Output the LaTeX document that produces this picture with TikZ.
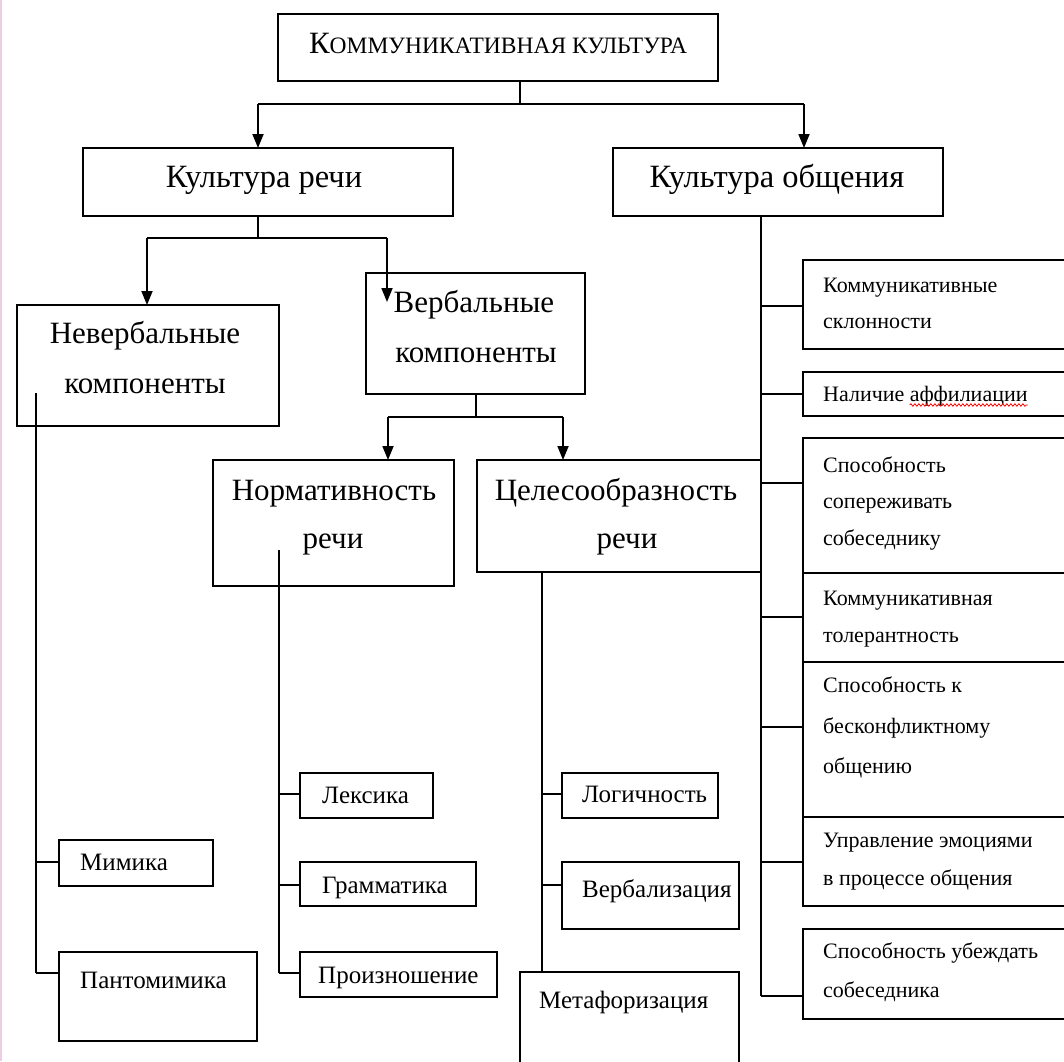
\documentclass[tikz,border=0pt]{standalone}
\usepackage{fontspec}
\setmainfont{Liberation Serif}
\newfontfamily\ser{Liberation Serif}
\newfontfamily\rcol{Liberation Serif}
\usetikzlibrary{arrows.meta,decorations.pathmorphing,fit}
\definecolor{edgepink}{RGB}{238,205,228}
\tikzset{
  bx/.style={draw=black, line width=2.4pt, inner sep=0pt, outer sep=0pt},
  ln/.style={draw=black, line width=1.8pt},
  ar/.style={ln, -{Triangle[length=14pt,width=11pt]}},
  big/.style={font=\ser\fontsize{32.5}{36}\selectfont, inner sep=0pt, anchor=base},
  lab/.style={font=\ser\fontsize{31}{34}\selectfont, inner sep=0pt, anchor=base},
  mid/.style={font=\ser\fontsize{25}{30}\selectfont, inner sep=0pt, anchor=base west},
  sm/.style={font=\rcol\fontsize{22}{25}\selectfont, inner sep=0pt, anchor=base west},
}
\newcommand\mkbox[5]{\node[bx, fit={(#2,#3) (#4,#5)}] (#1) {};}
\begin{document}
\begin{tikzpicture}[x=1pt,y=-1pt]
\useasboundingbox (0,0) rectangle (1064,1061);
\clip (0,0) rectangle (1064,1061);
\fill[white] (0,0) rectangle (1064,1061);
\draw[edgepink, line width=2pt] (1,0) -- (1,1061);

% boxes
\mkbox{top}{278}{14}{718}{81}
\mkbox{crech}{83}{148}{453}{216}
\mkbox{cobsh}{613}{148}{943}{216}
\mkbox{nev}{17}{305}{279}{426}
\mkbox{verb}{366}{273}{585}{394}
\mkbox{norm}{213}{460}{454}{586}
\mkbox{cel}{477}{460}{761}{572}
\mkbox{r1}{803}{260}{1080}{349}
\mkbox{r2}{803}{372}{1080}{416}
\mkbox{r3}{803}{438}{1080}{573}
\mkbox{r4}{803}{573}{1080}{662}
\mkbox{r5}{803}{662}{1080}{817}
\mkbox{r6}{803}{817}{1080}{906}
\mkbox{r7}{803}{929}{1080}{1019}
\mkbox{mim}{59}{840}{213}{886}
\mkbox{pant}{59}{952}{257}{1041}
\mkbox{lex}{300}{773}{433}{818}
\mkbox{gram}{300}{862}{476}{906}
\mkbox{proizn}{300}{952}{497}{997}
\mkbox{logi}{562}{773}{718}{818}
\mkbox{verbz}{562}{862}{739}{929}
\mkbox{met}{520}{972}{739}{1080}

% connectors: top level
\coordinate (a0) at (520,104);
\coordinate (a1) at (258,104);
\coordinate (a2) at (804,104);
\draw[ln] (a0 |- top.south) -- (a0);
\draw[ln] (a1) -- (a2);
\draw[ar] (a1) -- (a1 |- crech.north);
\draw[ar] (a2) -- (a2 |- cobsh.north);

% culture of speech
\coordinate (b0) at (258,238);
\coordinate (b1) at (147,238);
\coordinate (b2) at (387,238);
\coordinate (btip) at (387,302);
\draw[ln] (b0 |- crech.south) -- (b0);
\draw[ln] (b1) -- (b2);
\draw[ar] (b1) -- (b1 |- nev.north);
\draw[ar] (b2) -- (btip);

% verbal components
\coordinate (c0) at (476,417);
\coordinate (c1) at (388,417);
\coordinate (c2) at (563,417);
\draw[ln] (c0 |- verb.south) -- (c0);
\draw[ln] (c1) -- (c2);
\draw[ar] (c1) -- (c1 |- norm.north);
\draw[ar] (c2) -- (c2 |- cel.north);

% culture of communication trunk
\coordinate (dtop) at (761,216);
\coordinate (d1) at (761,306);
\coordinate (d2) at (761,394);
\coordinate (d3) at (761,483);
\coordinate (d4) at (761,617);
\coordinate (d5) at (761,727);
\coordinate (d6) at (761,862);
\coordinate (d7) at (761,996);
\draw[ln] (dtop |- cobsh.south) -- (d7);
\draw[ln] (d1) -- (d1 -| r1.west);
\draw[ln] (d2) -- (d2 -| r2.west);
\draw[ln] (d3) -- (d3 -| r3.west);
\draw[ln] (d4) -- (d4 -| r4.west);
\draw[ln] (d5) -- (d5 -| r5.west);
\draw[ln] (d6) -- (d6 -| r6.west);
\draw[ln] (d7) -- (d7 -| r7.west);

% nonverbal trunk
\coordinate (e0) at (36,393);
\coordinate (e1) at (36,862);
\coordinate (e2) at (36,973);
\draw[ln] (e0) -- (e2);
\draw[ln] (e1) -- (e1 -| mim.west);
\draw[ln] (e2) -- (e2 -| pant.west);

% normativity trunk
\coordinate (f0) at (279,550);
\coordinate (f1) at (279,794);
\coordinate (f2) at (279,885);
\coordinate (f3) at (279,973);
\draw[ln] (f0) -- (f3);
\draw[ln] (f1) -- (f1 -| lex.west);
\draw[ln] (f2) -- (f2 -| gram.west);
\draw[ln] (f3) -- (f3 -| proizn.west);

% expedience trunk
\coordinate (g0) at (542,572);
\coordinate (g1) at (542,794);
\coordinate (g2) at (542,885);
\draw[ln] (g0 |- cel.south) -- (g0 |- met.north);
\draw[ln] (g1) -- (g1 -| logi.west);
\draw[ln] (g2) -- (g2 -| verbz.west);

% texts
\node[big] (ttop) at (498,53) {{\fontsize{31}{36}\selectfont К}{\fontsize{23.5}{30}\selectfont ОММУНИКАТИВНАЯ КУЛЬТУРА}};
\node[big] (tcrech) at (264,187) {Культура речи};
\node[big] (tcobsh) at (777,187) {Культура общения};
\node[lab] (tnev1) at (145,343) {Невербальные};
\node[lab] (tnev2) at (145,393) {компоненты};
\node[lab] (tverb1) at (474,312) {Вербальные};
\node[lab] (tverb2) at (476,362) {компоненты};
\node[lab] (tnorm1) at (334,500) {Нормативность};
\node[lab] (tnorm2) at (333,548) {речи};
\node[lab] (tcel1) at (616,500) {Целесообразность};
\node[lab] (tcel2) at (627,548) {речи};

\node[mid] (tlex) at (322,803) {Лексика};
\node[mid] (tmim) at (80,870) {Мимика};
\node[mid] (tgram) at (322,893) {Грамматика};
\node[mid] (tpant) at (80,988) {Пантомимика};
\node[mid] (tproizn) at (318,983) {Произношение};
\node[mid] (tlogi) at (582,802) {Логичность};
\node[mid] (tverbz) at (582,897) {Вербализация};
\node[mid] (tmet) at (539,1008) {Метафоризация};

\node[sm] (tr1a) at (823,292) {Коммуникативные};
\node[sm] (tr1b) at (823,328) {склонности};
\node[sm] (tr2a) at (823,401) {Наличие};
\node[sm, anchor=base west] (tr2b) at ([xshift=5pt]tr2a.base east) {аффилиации};
\draw[red, line width=0.8pt, decorate, decoration={snake, amplitude=1.2pt, segment length=4pt}]
  ([yshift=-4pt]tr2b.base west) -- ([yshift=-4pt]tr2b.base east);
\node[sm] (tr3a) at (823,472) {Способность};
\node[sm] (tr3b) at (823,508) {сопереживать};
\node[sm] (tr3c) at (823,545) {собеседнику};
\node[sm] (tr4a) at (823,605) {Коммуникативная};
\node[sm] (tr4b) at (823,642) {толерантность};
\node[sm] (tr5a) at (823,692) {Способность к};
\node[sm] (tr5b) at (823,733) {бесконфликтному};
\node[sm] (tr5c) at (823,773) {общению};
\node[sm] (tr6a) at (823,847) {Управление эмоциями};
\node[sm] (tr6b) at (823,885) {в процессе общения};
\node[sm] (tr7a) at (823,958) {Способность убеждать};
\node[sm] (tr7b) at (823,997) {собеседника};
\end{tikzpicture}
\end{document}
